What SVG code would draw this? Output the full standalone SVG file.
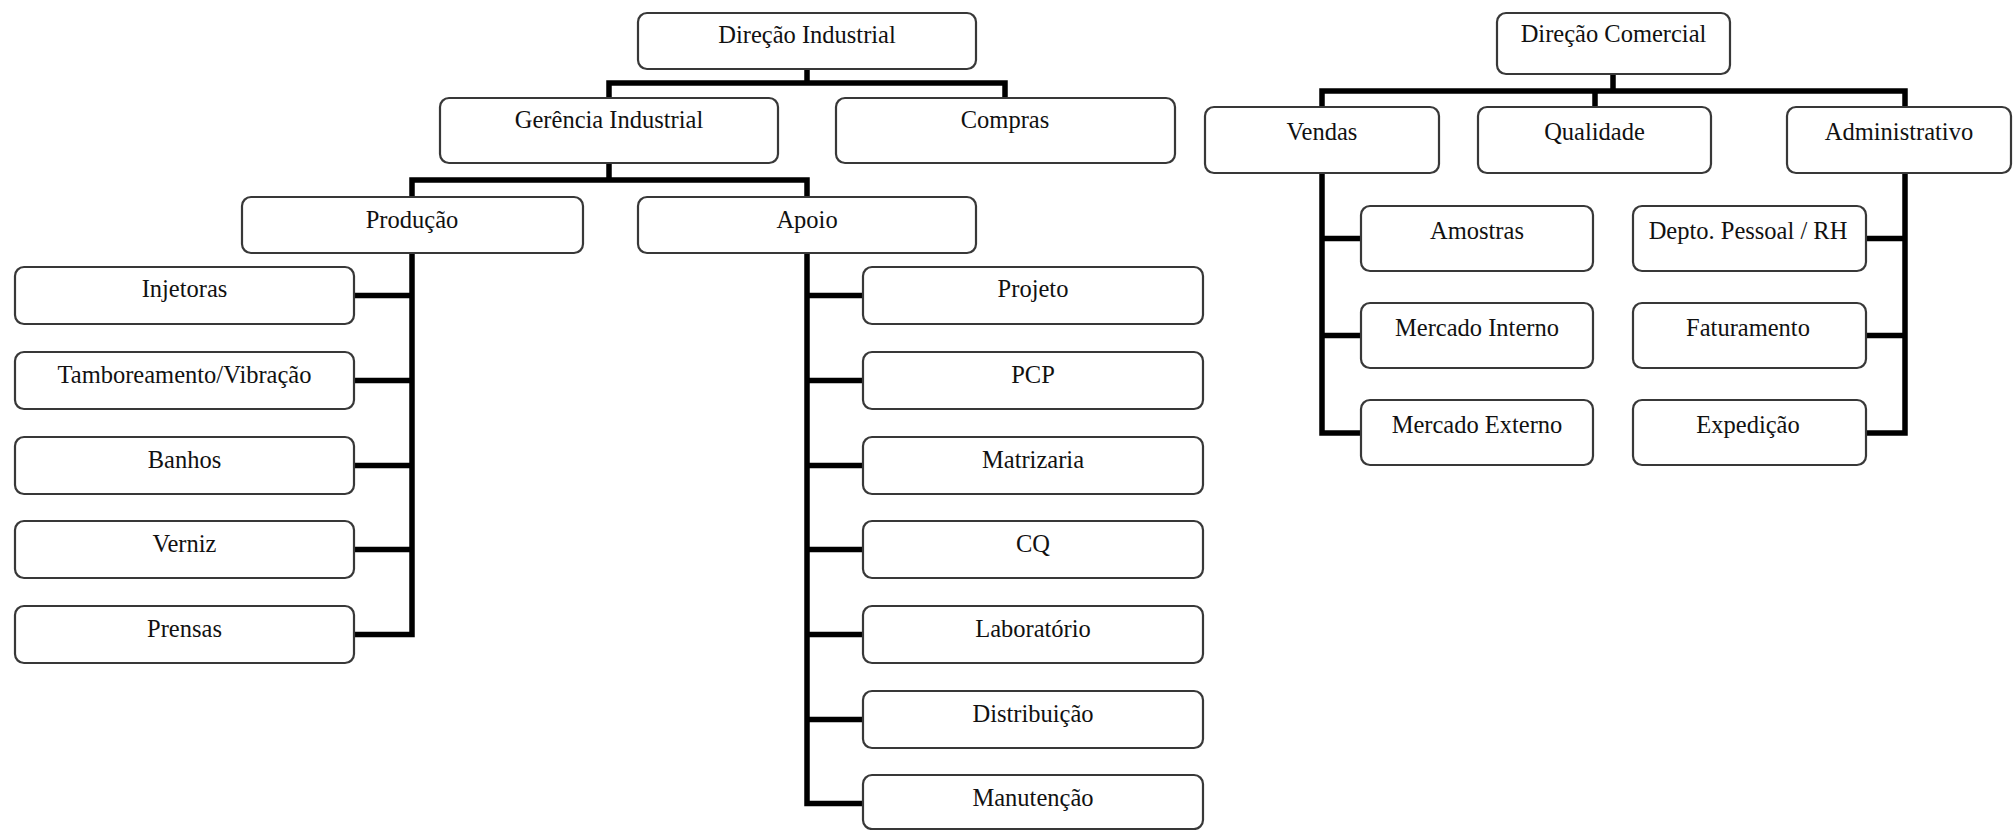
<svg xmlns="http://www.w3.org/2000/svg" width="2013" height="830" viewBox="0 0 2013 830">
  <style>
    .box rect { fill: #ffffff; stroke: #383838; stroke-width: 2.2; }
    .box text { font-family: "Liberation Serif", "Times New Roman", serif; font-size: 24.5px; fill: #111; text-anchor: middle; }
    .conn path { fill: none; stroke: #000; stroke-width: 5.5; stroke-linejoin: miter; stroke-linecap: square; }
  </style>
  <rect width="2013" height="830" fill="#ffffff"/>

  <!-- connectors -->
  <g class="conn" id="connectors">
    <!-- industrial branch -->
    <path d="M807 70 V83 M609 97 V83 H1005 V97"/>
    <path d="M609 164 V180 M412 196 V180 H807 V196"/>
    <path d="M412 254 V634.5 H355 M412 295.5 H355 M412 380.5 H355 M412 465.5 H355 M412 549.5 H355"/>
    <path d="M807 254 V803.5 H862 M807 295.5 H862 M807 380.5 H862 M807 465.5 H862 M807 549.5 H862 M807 634.5 H862 M807 719.5 H862"/>
    <!-- commercial branch -->
    <path d="M1613 75 V91 M1322 106 V91 H1905 V106 M1595 91 V106"/>
    <path d="M1322 174 V433 H1360 M1322 238.5 H1360 M1322 335.5 H1360"/>
    <path d="M1905 174 V433 H1867 M1905 238.5 H1867 M1905 335.5 H1867"/>
  </g>

  <!-- industrial nodes -->
  <g class="box" id="direcao-industrial"><rect x="638" y="13" width="338" height="56" rx="9"/><text x="807" y="43">Direção Industrial</text></g>
  <g class="box" id="gerencia-industrial"><rect x="440" y="98" width="338" height="65" rx="9"/><text x="609" y="128">Gerência Industrial</text></g>
  <g class="box" id="compras"><rect x="836" y="98" width="339" height="65" rx="9"/><text x="1005" y="128">Compras</text></g>
  <g class="box" id="producao"><rect x="242" y="197" width="341" height="56" rx="9"/><text x="412" y="228">Produção</text></g>
  <g class="box" id="apoio"><rect x="638" y="197" width="338" height="56" rx="9"/><text x="807" y="228">Apoio</text></g>

  <g class="box" id="injetoras"><rect x="15" y="267" width="339" height="57" rx="9"/><text x="184.5" y="297">Injetoras</text></g>
  <g class="box" id="tamboreamento"><rect x="15" y="352" width="339" height="57" rx="9"/><text x="184.5" y="383">Tamboreamento/Vibração</text></g>
  <g class="box" id="banhos"><rect x="15" y="437" width="339" height="57" rx="9"/><text x="184.5" y="468">Banhos</text></g>
  <g class="box" id="verniz"><rect x="15" y="521" width="339" height="57" rx="9"/><text x="184.5" y="552">Verniz</text></g>
  <g class="box" id="prensas"><rect x="15" y="606" width="339" height="57" rx="9"/><text x="184.5" y="637">Prensas</text></g>

  <g class="box" id="projeto"><rect x="863" y="267" width="340" height="57" rx="9"/><text x="1033" y="297">Projeto</text></g>
  <g class="box" id="pcp"><rect x="863" y="352" width="340" height="57" rx="9"/><text x="1033" y="383">PCP</text></g>
  <g class="box" id="matrizaria"><rect x="863" y="437" width="340" height="57" rx="9"/><text x="1033" y="468">Matrizaria</text></g>
  <g class="box" id="cq"><rect x="863" y="521" width="340" height="57" rx="9"/><text x="1033" y="552">CQ</text></g>
  <g class="box" id="laboratorio"><rect x="863" y="606" width="340" height="57" rx="9"/><text x="1033" y="637">Laboratório</text></g>
  <g class="box" id="distribuicao"><rect x="863" y="691" width="340" height="57" rx="9"/><text x="1033" y="722">Distribuição</text></g>
  <g class="box" id="manutencao"><rect x="863" y="775" width="340" height="54" rx="9"/><text x="1033" y="806">Manutenção</text></g>

  <!-- commercial nodes -->
  <g class="box" id="direcao-comercial"><rect x="1497" y="13" width="233" height="61" rx="9"/><text x="1613.5" y="42">Direção Comercial</text></g>
  <g class="box" id="vendas"><rect x="1205" y="107" width="234" height="66" rx="9"/><text x="1322" y="140">Vendas</text></g>
  <g class="box" id="qualidade"><rect x="1478" y="107" width="233" height="66" rx="9"/><text x="1594.5" y="140">Qualidade</text></g>
  <g class="box" id="administrativo"><rect x="1787" y="107" width="224" height="66" rx="9"/><text x="1899" y="140">Administrativo</text></g>

  <g class="box" id="amostras"><rect x="1361" y="206" width="232" height="65" rx="9"/><text x="1477" y="239">Amostras</text></g>
  <g class="box" id="mercado-interno"><rect x="1361" y="303" width="232" height="65" rx="9"/><text x="1477" y="336">Mercado Interno</text></g>
  <g class="box" id="mercado-externo"><rect x="1361" y="400" width="232" height="65" rx="9"/><text x="1477" y="433">Mercado Externo</text></g>
  <g class="box" id="depto-pessoal"><rect x="1633" y="206" width="233" height="65" rx="9"/><text x="1748" y="239">Depto. Pessoal / RH</text></g>
  <g class="box" id="faturamento"><rect x="1633" y="303" width="233" height="65" rx="9"/><text x="1748" y="336">Faturamento</text></g>
  <g class="box" id="expedicao"><rect x="1633" y="400" width="233" height="65" rx="9"/><text x="1748" y="433">Expedição</text></g>
</svg>
